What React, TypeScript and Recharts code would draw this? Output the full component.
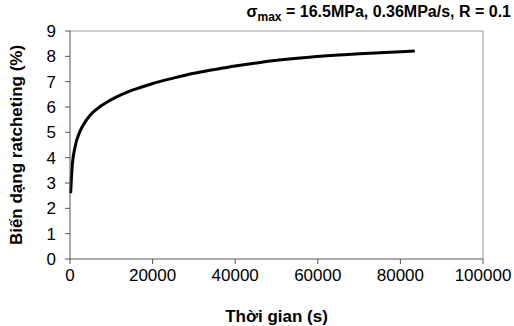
import { LineChart, Line, XAxis, YAxis, ReferenceLine } from 'recharts';

// thời gian (s) và biến dạng ratcheting (%)
const times = [150, 500, 1200, 2400, 4000, 5500, 7300, 9000, 11300, 14000, 17000, 20000, 25000, 30000, 35000, 40000, 46000, 55000, 65000, 75000, 83500];
const strains = [2.6, 3.6, 4.4, 5.03, 5.49, 5.78, 6.02, 6.2, 6.4, 6.6, 6.77, 6.93, 7.14, 7.33, 7.48, 7.62, 7.76, 7.92, 8.05, 8.14, 8.21];
const xTicks = [0, 20000, 40000, 60000, 80000, 100000];
const yTicks = [0, 1, 2, 3, 4, 5, 6, 7, 8, 9];

const data = times.map((t, i) => ({ t, v: strains[i] }));

const font = '"Liberation Sans", Arial, sans-serif';
const tickStyle = { fill: '#000', fontSize: 17, fontFamily: font };
const labelStyle = { fill: '#000', fontSize: 17, fontWeight: 'bold', fontFamily: font };

export default function App() {
  return (
    <div style={{ position: 'absolute', left: 0, top: 0, width: 514, height: 326, background: '#fff', fontFamily: font }}>
      <div
        style={{
          position: 'absolute',
          right: 3,
          top: 3,
          fontSize: 16,
          fontWeight: 'bold',
          whiteSpace: 'nowrap',
          color: '#000',
        }}
      >
        σ<sub style={{ fontSize: 12 }}>max</sub> = 16.5MPa, 0.36MPa/s, R = 0.1
      </div>
      <LineChart width={514} height={326} data={data} margin={{ top: 31, right: 31, bottom: 0, left: 0 }}>
        <XAxis
          dataKey="t"
          type="number"
          domain={[0, 100000]}
          ticks={xTicks}
          tickSize={5}
          tickMargin={5}
          height={67}
          stroke="#555"
          tick={tickStyle}
          label={{ value: 'Thời gian (s)', position: 'insideBottom', offset: 4, style: labelStyle }}
        />
        <YAxis
          type="number"
          domain={[0, 9]}
          ticks={yTicks}
          tickSize={5}
          tickMargin={9}
          width={70}
          stroke="#555"
          tick={tickStyle}
          label={{ value: 'Biến dạng ratcheting (%)', angle: -90, position: 'insideLeft', offset: 16, style: { ...labelStyle, textAnchor: 'middle' } }}
        />
        <ReferenceLine y={9} stroke="#999" />
        <ReferenceLine x={100000} stroke="#999" />
        <Line type="monotone" dataKey="v" stroke="#000" strokeWidth={3} dot={false} isAnimationActive={false} />
      </LineChart>
    </div>
  );
}
